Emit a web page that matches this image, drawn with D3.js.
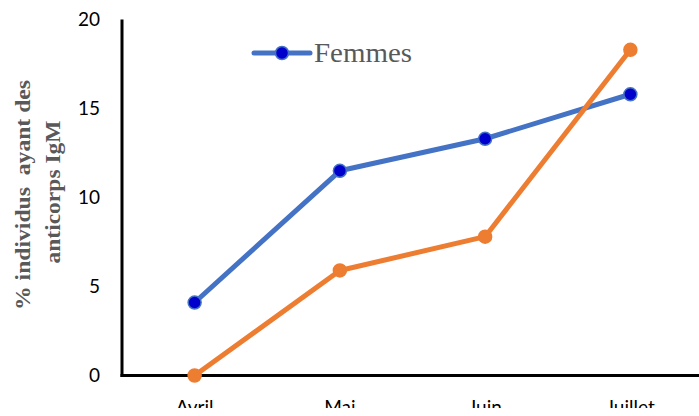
<!DOCTYPE html>
<html>
<head>
<meta charset="utf-8">
<script src="https://cdn.jsdelivr.net/npm/d3@7"></script>
<style>
  body { margin: 0; background: #fff; }
  svg { display: block; }
</style>
</head>
<body>
<svg id="chart" width="699" height="408"></svg>
<script>
// Chart data
const months = ["Avril", "Mai", "Juin", "Juillet"];
const femmes = [4.1, 11.5, 13.3, 15.8];
const hommes = [0, 5.9, 7.8, 18.3];
const yTicks = [0, 5, 10, 15, 20];

const chart = d3.select("#chart");
const margin = { top: 20, right: -4, bottom: 40, left: 122 };
const width = 699;

const x = d3.scaleBand()
  .domain(months)
  .range([margin.left, width - margin.right])
  .padding(0);

const y = d3.scaleLinear()
  .domain([0, 20])
  .range([375.5, 19.5]);

const cx = d => x(d) + x.bandwidth() / 2;

// Axis lines
chart.append("line")
  .attr("x1", margin.left).attr("x2", margin.left)
  .attr("y1", y(20)).attr("y2", y(0) + 1.5)
  .attr("stroke", "#000").attr("stroke-width", 3);

chart.append("line")
  .attr("x1", margin.left - 1.5).attr("x2", width + 10)
  .attr("y1", y(0)).attr("y2", y(0))
  .attr("stroke", "#000").attr("stroke-width", 3);

// Tick labels
chart.append("g")
  .selectAll("text")
  .data(yTicks)
  .join("text")
    .attr("x", 100)
    .attr("y", d => y(d))
    .attr("dy", "0.35em")
    .attr("text-anchor", "end")
    .attr("font-family", "Lato, 'Open Sans', sans-serif")
    .attr("font-size", 19)
    .attr("fill", "#000")
    .text(d => d);

// Month labels (bottom partly cut, as in the original)
chart.append("g")
  .selectAll("text")
  .data(months)
  .join("text")
    .attr("x", d => cx(d))
    .attr("y", 414)
    .attr("text-anchor", "middle")
    .attr("font-family", "Lato, 'Open Sans', sans-serif")
    .attr("font-size", 19)
    .attr("fill", "#000")
    .text(d => d);

// Y axis title (two lines)
const title = chart.append("text")
  .attr("transform", "translate(0,195) rotate(-90)")
  .attr("text-anchor", "middle")
  .attr("font-family", "'Liberation Serif', 'Times New Roman', serif")
  .attr("font-weight", "bold")
  .attr("font-size", 22)
  .attr("fill", "#595959");
title.append("tspan").attr("x", 0).attr("y", 30)
  .attr("textLength", 230).attr("lengthAdjust", "spacingAndGlyphs")
  .attr("xml:space", "preserve").text("% individus  ayant des");
title.append("tspan").attr("x", 0).attr("y", 60).attr("dx", 3)
  .attr("textLength", 143).attr("lengthAdjust", "spacingAndGlyphs")
  .text("anticorps IgM");

// Series
const series = [
  { name: "Femmes", values: femmes, color: "#4472C4", dot: "#0000CC" },
  { name: "Hommes", values: hommes, color: "#ED7D31", dot: "#ED7D31" }
];

const line = d3.line()
  .x((d, i) => cx(months[i]))
  .y(d => y(d));

series.forEach(s => {
  chart.append("path")
    .datum(s.values)
    .attr("d", line)
    .attr("fill", "none")
    .attr("stroke", s.color)
    .attr("stroke-width", 5)
    .attr("stroke-linejoin", "round");

  chart.append("g")
    .selectAll("circle")
    .data(s.values)
    .join("circle")
      .attr("cx", (d, i) => cx(months[i]))
      .attr("cy", d => y(d))
      .attr("r", 6.5)
      .attr("fill", s.dot)
      .attr("stroke", s.color)
      .attr("stroke-width", 1.5);
});

// Legend (only Femmes shown)
const legend = chart.append("g").attr("transform", "translate(254,53)");
legend.append("line")
  .attr("x1", 0).attr("x2", 56)
  .attr("stroke", series[0].color).attr("stroke-width", 5)
  .attr("stroke-linecap", "round");
legend.append("circle")
  .attr("cx", 28).attr("r", 6.5)
  .attr("fill", series[0].dot)
  .attr("stroke", series[0].color).attr("stroke-width", 1.5);
legend.append("text")
  .attr("x", 60).attr("y", 0).attr("dy", "0.35em")
  .attr("font-family", "'Liberation Serif', 'Times New Roman', serif")
  .attr("font-size", 27)
  .attr("textLength", 98).attr("lengthAdjust", "spacingAndGlyphs")
  .attr("fill", "#595959")
  .text("Femmes");
</script>
</body>
</html>
